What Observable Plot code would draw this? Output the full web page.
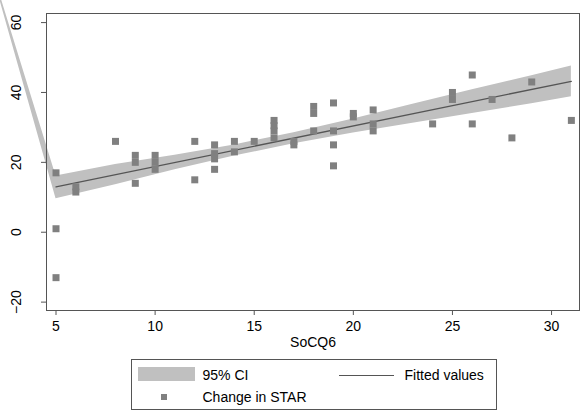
<!DOCTYPE html>
<html>
<head>
<meta charset="utf-8">
<script src="https://cdn.jsdelivr.net/npm/d3@7"></script>
<script src="https://cdn.jsdelivr.net/npm/@observablehq/plot@0.6"></script>
<style>
  html, body { margin: 0; padding: 0; background: #fff; }
  body { position: relative; width: 583px; height: 419px; font-family: "Liberation Sans", Arial, sans-serif; }
  #chart svg { display: block; }
  #legend { position: absolute; left: 131px; top: 359px; width: 366px; height: 51px; border: 1px solid #555; box-sizing: border-box; font-size: 14px; color: #000; }
  #legend .it { position: absolute; white-space: nowrap; line-height: 16px; }
</style>
</head>
<body>
<div id="chart"></div>
<div id="legend"></div>
<script>
// Scatter: Change in STAR vs SoCQ6
const pointX = [5,5,5, 6,6, 8, 9,9,9, 10,10,10, 12,12, 13,13,13,13, 14,14, 15, 16,16,16,16, 17,17, 18,18,18, 19,19,19,19, 20,20, 21,21,21, 24, 25,25, 26,26, 27, 28, 29, 31];
const pointY = [17,1,-13, 11.5,13, 26, 22,20,14, 22,20,18, 26,15, 25,22.5,21,18, 26,23, 26, 32,30.5,29,27, 26,25, 36,34,29, 37,29,25,19, 34,33, 35,31,29, 31, 40,38, 45,31, 38, 27, 43, 32];

// Fitted values (linear fit)
const fitX = [5, 31];
const fitY = [13.0, 43.2];

// 95% CI band (first vertex is the stray vertex seen in the original rendering)
const ciX  = [2.2, 5, 8, 11, 14, 17, 20, 23, 26, 29, 31];
const ciLo = [65.8, 9.6, 13.6, 17.9, 21.8, 25.3, 28.4, 31.2, 34.0, 36.8, 38.8];
const ciHi = [67.5, 16.1, 19.4, 22.0, 25.0, 28.5, 32.4, 36.6, 40.8, 44.8, 47.6];

const xTicks = [5, 10, 15, 20, 25, 30];
const yTicks = [-20, 0, 20, 40, 60];
const xLabel = "SoCQ6";
const legendLabels = ["95% CI", "Fitted values", "Change in STAR"];

const points = pointX.map((x, i) => ({x, y: pointY[i]}));
const fit = fitX.map((x, i) => ({x, y: fitY[i]}));
const ci = ciX.map((x, i) => ({x, lo: ciLo[i], hi: ciHi[i]}));

const W = 583, H = 352;
const chart = Plot.plot({
  width: W,
  height: H,
  marginLeft: 46,
  marginRight: 4,
  marginTop: 13,
  marginBottom: H - 310,
  style: {fontFamily: "Liberation Sans, Arial, sans-serif", fontSize: "14px", color: "#000", background: "#fff"},
  x: {domain: [4.52, 31.41]},
  y: {domain: [-22.4, 62.6]},
  marks: [
    Plot.areaY(ci, {x: "x", y1: "lo", y2: "hi", fill: "#c0c0c0", curve: "linear"}),
    Plot.line(fit, {x: "x", y: "y", stroke: "#555", strokeWidth: 1.3}),
    Plot.dot(points, {x: "x", y: "y", symbol: "square", r: 3.95, fill: "#808080", stroke: "none"}),
    Plot.frame({stroke: "#555", strokeWidth: 1}),
    Plot.axisX({ticks: xTicks, tickSize: 5, tickPadding: 6, stroke: "#555", fontSize: 14, fill: "#000",
      label: xLabel, labelAnchor: "center", labelOffset: 36, labelArrow: "none"}),
    Plot.axisY({ticks: yTicks, tickSize: 5, tickPadding: 25, tickRotate: -90, textAnchor: "middle", lineAnchor: "middle",
      stroke: "#555", fontSize: 14, fill: "#000", label: null})
  ]
});
document.getElementById("chart").appendChild(chart);

// Legend
const lg = document.getElementById("legend");
function add(html, style) {
  const d = document.createElement("div");
  d.className = "it";
  d.innerHTML = html;
  Object.assign(d.style, style);
  lg.appendChild(d);
  return d;
}
const L = 131, T = 359;
add("", {left: (137 - L) + "px", top: (366 - T) + "px", width: "57px", height: "14px", background: "#c0c0c0"});
add(legendLabels[0], {left: (201.5 - L) + "px", top: (366 - T) + "px"});
add("", {left: (338 - L) + "px", top: (374 - T) + "px", width: "55px", height: "1.3px", background: "#555"});
add(legendLabels[1], {left: (403.5 - L) + "px", top: (366 - T) + "px"});
add("", {left: (160.3 - L) + "px", top: (392.7 - T) + "px", width: "6px", height: "6px", background: "#808080"});
add(legendLabels[2], {left: (201.5 - L) + "px", top: (388 - T) + "px"});
</script>
</body>
</html>
